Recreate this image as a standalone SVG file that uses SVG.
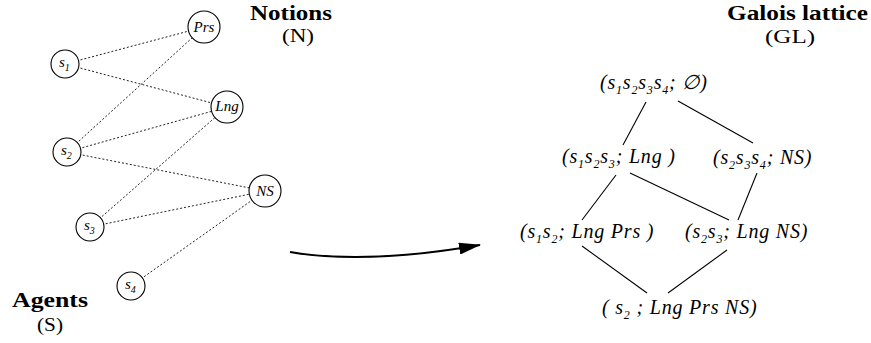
<svg xmlns="http://www.w3.org/2000/svg" width="871" height="343" viewBox="0 0 871 343">
<defs>
<style>
.bg{fill:#fff}
.nd{fill:#fff;stroke:#000;stroke-width:1.1}
.dot{stroke:#222;stroke-width:1;stroke-dasharray:2 2;fill:none}
.ln{stroke:#000;stroke-width:1.1;fill:none}
.hd{font-family:'Liberation Serif','DejaVu Serif','Times New Roman',serif;font-weight:bold;font-size:20px;fill:#000}
.hs{font-family:'Liberation Serif','DejaVu Serif','Times New Roman',serif;font-size:19px;fill:#000}
.nl{font-family:'Liberation Serif','DejaVu Serif','Times New Roman',serif;font-style:italic;font-size:15px;fill:#000}
.ns{font-size:10px}
.lat{font-family:'Liberation Serif','DejaVu Serif','Times New Roman',serif;font-style:italic;font-size:20px;letter-spacing:0.8px;fill:#000}
.sub{font-size:12px}
</style>
<marker id="ah" viewBox="0 0 22 12" refX="21" refY="6" markerWidth="22" markerHeight="12" markerUnits="userSpaceOnUse" orient="auto">
<path d="M0,0 L22,6 L0,12 Z" fill="#000"/>
</marker>
</defs>
<rect class="bg" width="871" height="343"/>
<g id="connectors">
<line class="dot" x1="65" y1="64" x2="204" y2="27"/>
<line class="dot" x1="65" y1="64" x2="227" y2="107"/>
<line class="dot" x1="67" y1="152" x2="204" y2="27"/>
<line class="dot" x1="67" y1="152" x2="227" y2="107"/>
<line class="dot" x1="67" y1="152" x2="265" y2="191"/>
<line class="dot" x1="90" y1="227" x2="227" y2="107"/>
<line class="dot" x1="90" y1="227" x2="265" y2="191"/>
<line class="dot" x1="131" y1="286" x2="265" y2="191"/>
<line class="ln" x1="646" y1="102" x2="623" y2="145"/>
<line class="ln" x1="678" y1="101" x2="753" y2="143"/>
<line class="ln" x1="616" y1="175" x2="582" y2="220"/>
<line class="ln" x1="630" y1="173" x2="729" y2="220"/>
<line class="ln" x1="757" y1="173" x2="738" y2="220"/>
<line class="ln" x1="582" y1="246" x2="647" y2="293"/>
<line class="ln" x1="727" y1="250" x2="668" y2="293"/>
<path d="M290,252 Q365,265 480,245" fill="none" stroke="#000" stroke-width="2" marker-end="url(#ah)"/>
</g>
<g id="s1"><circle class="nd" cx="65" cy="64" r="14"/><text class="nl" x="59" y="67">s<tspan class="ns" dy="4">1</tspan></text></g>
<g id="s2"><circle class="nd" cx="67" cy="152" r="14"/><text class="nl" x="61" y="155">s<tspan class="ns" dy="4">2</tspan></text></g>
<g id="s3"><circle class="nd" cx="90" cy="227" r="14"/><text class="nl" x="84" y="230">s<tspan class="ns" dy="4">3</tspan></text></g>
<g id="s4"><circle class="nd" cx="131" cy="286" r="14"/><text class="nl" x="125" y="289">s<tspan class="ns" dy="4">4</tspan></text></g>
<g id="Prs"><circle class="nd" cx="204" cy="27" r="16"/><text class="nl" x="204" y="32" text-anchor="middle">Prs</text></g>
<g id="Lng"><circle class="nd" cx="227" cy="107" r="16"/><text class="nl" x="227" y="111" text-anchor="middle">Lng</text></g>
<g id="NS"><circle class="nd" cx="265" cy="191" r="16"/><text class="nl" x="265" y="196" text-anchor="middle">NS</text></g>
<g id="notions-label"><text class="hd" x="250" y="20" textLength="82" lengthAdjust="spacingAndGlyphs">Notions</text><text class="hs" x="282" y="42" textLength="32" lengthAdjust="spacingAndGlyphs">(N)</text></g>
<g id="agents-label"><text class="hd" x="12" y="307" textLength="76" lengthAdjust="spacingAndGlyphs">Agents</text><text class="hs" x="37" y="331" textLength="26" lengthAdjust="spacingAndGlyphs">(S)</text></g>
<g id="gl-label"><text class="hd" x="727" y="20" textLength="141" lengthAdjust="spacingAndGlyphs">Galois lattice</text><text class="hs" x="765" y="43" textLength="50" lengthAdjust="spacingAndGlyphs">(GL)</text></g>
<g id="n-top"><text class="lat" x="600" y="89">(s<tspan class="sub" dy="5">1</tspan><tspan dy="-5">s</tspan><tspan class="sub" dy="5">2</tspan><tspan dy="-5">s</tspan><tspan class="sub" dy="5">3</tspan><tspan dy="-5">s</tspan><tspan class="sub" dy="5">4</tspan><tspan dy="-5">; ∅)</tspan></text></g>
<g id="n-123"><text class="lat" x="562" y="163">(s<tspan class="sub" dy="5">1</tspan><tspan dy="-5">s</tspan><tspan class="sub" dy="5">2</tspan><tspan dy="-5">s</tspan><tspan class="sub" dy="5">3</tspan><tspan dy="-5">; Lng )</tspan></text></g>
<g id="n-234"><text class="lat" x="713" y="164">(s<tspan class="sub" dy="5">2</tspan><tspan dy="-5">s</tspan><tspan class="sub" dy="5">3</tspan><tspan dy="-5">s</tspan><tspan class="sub" dy="5">4</tspan><tspan dy="-5">; NS)</tspan></text></g>
<g id="n-12"><text class="lat" x="520" y="238">(s<tspan class="sub" dy="5">1</tspan><tspan dy="-5">s</tspan><tspan class="sub" dy="5">2</tspan><tspan dy="-5">; Lng Prs )</tspan></text></g>
<g id="n-23"><text class="lat" x="685" y="238">(s<tspan class="sub" dy="5">2</tspan><tspan dy="-5">s</tspan><tspan class="sub" dy="5">3</tspan><tspan dy="-5">; Lng NS)</tspan></text></g>
<g id="n-bot"><text class="lat" x="602" y="314">( s<tspan class="sub" dy="5">2</tspan><tspan dy="-5"> ; Lng  Prs  NS)</tspan></text></g>
</svg>
